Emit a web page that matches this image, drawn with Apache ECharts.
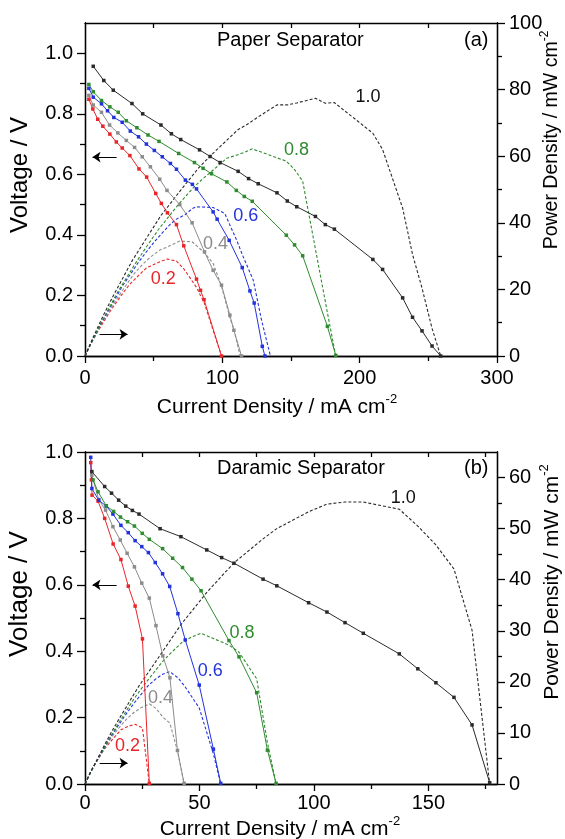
<!DOCTYPE html>
<html><head><meta charset="utf-8">
<script src="https://cdn.jsdelivr.net/npm/echarts@6/dist/echarts.min.js"></script>
<style>html,body{margin:0;padding:0;background:#fff}#c{width:565px;height:839px}</style>
</head><body><div id="c"></div>
<script>
// ---------------- DATA : Paper separator (a) ----------------
const concLabels = ['0.2', '0.4', '0.6', '0.8', '1.0'];

const p02I = [2.8, 5.7, 9.3, 13, 18.1, 22.8, 27.1, 32.7, 39.3, 44.9, 51.5, 55.6, 60, 66.6, 71.9, 81.2, 84.1, 86.7, 99.4];
const p02V = [0.848, 0.816, 0.782, 0.759, 0.733, 0.707, 0.687, 0.662, 0.618, 0.591, 0.537, 0.504, 0.473, 0.434, 0.364, 0.254, 0.217, 0.186, 0];
const p02PI = [0, 2.8, 5.7, 9.3, 13, 18.1, 22.8, 27.1, 32.7, 39.3, 44.9, 51.5, 55.6, 60, 66.6, 71.9, 81.2, 84.1, 86.7, 99.4];
const p02P = [0, 2.4, 4.7, 7.3, 9.9, 13.3, 16.1, 18.6, 21.6, 24.3, 26.5, 27.7, 28.5, 29.1, 28.5, 26.2, 20.6, 18.2, 16.1, 0];

const p04I = [2.8, 6, 12, 17.9, 23.9, 30.1, 36.1, 41.7, 47.6, 54.4, 59.7, 69, 78, 87, 93.3, 99.4, 105.5, 108.4, 114];
const p04V = [0.861, 0.829, 0.805, 0.763, 0.737, 0.712, 0.689, 0.658, 0.625, 0.584, 0.547, 0.50, 0.44, 0.344, 0.283, 0.234, 0.135, 0.085, 0];
const p04PI = [0, 2.8, 6, 12, 17.9, 23.9, 30.1, 36.1, 41.7, 47.6, 54.4, 59.7, 69, 78, 87, 93.3, 99.4, 105.5, 108.4, 113];
const p04P = [0, 2.4, 5.0, 9.7, 13.7, 17.6, 21.4, 24.9, 27.4, 29.7, 31.8, 32.7, 34.5, 34.3, 31.0, 27.8, 21.0, 11.5, 8.0, 0];

const p06I = [2.8, 6, 12, 16.4, 21, 27.1, 33, 39, 44.7, 50.5, 56.3, 62.2, 66.6, 73.1, 78.2, 81.2, 93.3, 96.2, 105, 114.5, 120.1, 123.2, 129.1, 131];
const p06V = [0.884, 0.855, 0.833, 0.81, 0.788, 0.772, 0.743, 0.724, 0.70, 0.679, 0.658, 0.636, 0.617, 0.581, 0.567, 0.552, 0.476, 0.452, 0.382, 0.292, 0.215, 0.175, 0.032, 0];
const p06PI = [0, 2.8, 6, 12, 16.4, 21, 27.1, 33, 39, 44.7, 50.5, 56.3, 62.2, 66.6, 73.1, 78.2, 81.2, 93.3, 101.8, 110.4, 115.2, 122.5, 128.6, 135];
const p06P = [0, 2.5, 5.1, 10, 13.3, 16.5, 20.9, 24.5, 28.2, 31.3, 34.3, 37, 39.6, 41.1, 42.5, 44.3, 44.8, 44.6, 42.8, 34.8, 29.8, 22.8, 10.7, 0];

const p08I = [2.8, 6, 12, 18.1, 24.2, 30.1, 37.8, 45.9, 53.9, 68.2, 79.7, 86, 92.1, 103.3, 110.2, 116, 121.8, 146.6, 152.6, 158.5, 176.5, 182.6];
const p08V = [0.897, 0.873, 0.844, 0.823, 0.805, 0.777, 0.754, 0.73, 0.709, 0.669, 0.639, 0.62, 0.602, 0.575, 0.547, 0.527, 0.511, 0.399, 0.367, 0.331, 0.098, 0.002];
const p08PI = [0, 2.8, 6, 12, 18.1, 24.2, 30.1, 37.8, 45.9, 53.9, 68.2, 79.7, 86, 92.1, 103.3, 110.2, 116, 121.8, 146.6, 152.6, 158.5, 176.5, 182.6];
const p08P = [0, 2.5, 5.2, 10.1, 14.9, 19.5, 23.4, 28.5, 33.5, 38.2, 45.6, 50.9, 53.3, 55.4, 59.4, 60.3, 61.1, 62.2, 58.5, 56.0, 52.5, 13.0, 0];

const p10I = [6, 13.7, 20.6, 34.2, 42, 55.3, 62.9, 69.7, 83.4, 91.1, 98.4, 111.5, 119.1, 126.1, 139.8, 147.3, 154.2, 167.8, 175, 181.6, 209.6, 216.7, 231.3, 238.5, 245.4, 252.7, 259];
const p10V = [0.957, 0.91, 0.878, 0.834, 0.80, 0.763, 0.734, 0.715, 0.681, 0.659, 0.639, 0.61, 0.586, 0.569, 0.539, 0.512, 0.493, 0.461, 0.434, 0.419, 0.319, 0.286, 0.192, 0.128, 0.083, 0.033, 0];
const p10PI = [0, 6, 13.7, 20.6, 34.2, 42, 55.3, 62.9, 69.7, 83.4, 91.1, 98.4, 111.5, 119.1, 126.1, 139.8, 147.3, 154.2, 167.8, 175, 181.6, 209.6, 216.7, 231.3, 238.5, 245.4, 252.7, 259];
const p10P = [0, 5.7, 12.5, 18.1, 28.5, 33.6, 42.2, 46.2, 49.8, 56.8, 60.0, 62.9, 68.0, 69.8, 71.8, 75.4, 75.4, 76.0, 77.4, 75.9, 76.1, 66.9, 62.0, 44.4, 30.5, 20.4, 8.3, 0];

// label anchor positions (current, voltage) for the concentration labels
const paperLabelI = [57, 95, 117, 154, 206];
const paperLabelV = [0.254, 0.37, 0.462, 0.68, 0.855];

// ---------------- DATA : Daramic separator (b) ----------------
const d02I = [2.5, 2.8, 3.1, 5.7, 8.6, 12.3, 15.7, 18.9, 21.9, 25.1, 28.1];
const d02V = [0.968, 0.916, 0.87, 0.852, 0.80, 0.723, 0.676, 0.596, 0.536, 0.437, 0.002];
const d02PI = [0, 2.5, 2.8, 3.1, 5.7, 8.6, 12.3, 15.7, 18.9, 21.9, 25.1, 28.1];
const d02P = [0, 2.4, 2.6, 2.7, 4.9, 6.9, 8.9, 10.6, 11.3, 11.7, 11.0, 0];

const d04I = [3, 6, 9, 12.2, 15.4, 18.4, 21.6, 24.8, 28.1, 31, 34, 37.1, 40.4, 43.3];
const d04V = [0.93, 0.857, 0.825, 0.775, 0.735, 0.695, 0.654, 0.605, 0.56, 0.477, 0.386, 0.32, 0.101, 0.002];
const d04PI = [0, 3, 6, 9, 12.2, 15.4, 18.4, 21.6, 24.8, 28.1, 31, 34, 37.1, 40.4, 43.3];
const d04P = [0, 2.8, 5.1, 7.4, 9.5, 11.3, 12.8, 14.1, 15.0, 15.7, 14.8, 13.1, 11.9, 6.5, 0];

const d06I = [2.5, 3, 6, 9.3, 12.2, 15.7, 18.9, 21.9, 24.8, 27.7, 30.7, 33.9, 37, 40.6, 43.8, 49.9, 56.1, 59.3];
const d06V = [0.984, 0.89, 0.855, 0.837, 0.813, 0.779, 0.757, 0.733, 0.715, 0.697, 0.667, 0.633, 0.595, 0.513, 0.434, 0.298, 0.105, 0.002];
const d06PI = [0, 2.5, 3, 6, 9.3, 12.2, 15.7, 18.9, 21.9, 24.8, 27.7, 30.7, 33.9, 37, 40.6, 43.8, 49.9, 56.1, 59.3];
const d06P = [0, 2.5, 2.7, 5.1, 7.8, 9.9, 12.2, 14.3, 16.1, 17.7, 19.3, 20.5, 21.5, 22.0, 20.8, 19.0, 14.9, 5.9, 0];

const d08I = [3.5, 5.7, 9.3, 12.5, 15.5, 18.6, 21.6, 25, 28.1, 33.9, 38.3, 42.6, 46.7, 50.7, 62.9, 67.3, 75, 79.7, 83.5];
const d08V = [0.916, 0.88, 0.838, 0.821, 0.804, 0.79, 0.777, 0.755, 0.737, 0.709, 0.68, 0.652, 0.617, 0.582, 0.432, 0.383, 0.275, 0.102, 0.002];
const d08PI = [0, 3.5, 5.7, 9.3, 12.5, 15.5, 18.6, 21.6, 25, 28.1, 33.9, 38.3, 42.6, 46.7, 50.7, 62.9, 67.3, 75, 79.7, 83.5];
const d08P = [0, 3.2, 5.0, 7.8, 10.3, 12.5, 14.7, 16.8, 18.9, 20.7, 24.0, 26.0, 27.8, 28.8, 29.5, 27.2, 25.8, 20.6, 8.1, 0];

const d10I = [3, 8.6, 11.6, 14.7, 17.8, 20.7, 23.6, 32.8, 41.9, 53.2, 59.7, 65.1, 77.8, 83.8, 97.7, 105.7, 113.6, 121.6, 137.3, 145.4, 153.3, 161.2, 169.1, 176.8];
const d10V = [0.941, 0.896, 0.876, 0.855, 0.837, 0.824, 0.813, 0.769, 0.745, 0.705, 0.682, 0.665, 0.617, 0.597, 0.546, 0.518, 0.486, 0.454, 0.392, 0.347, 0.305, 0.261, 0.178, 0.004];
const d10PI = [0, 3, 8.6, 11.6, 14.7, 17.8, 20.7, 23.6, 32.8, 41.9, 53.2, 59.7, 65.1, 77.8, 83.8, 97.7, 105.7, 113.6, 121.6, 137.3, 145.4, 153.3, 161.2, 169.1, 176.8];
const d10P = [0, 2.8, 7.7, 10.2, 12.6, 14.9, 17.1, 19.2, 25.2, 31.2, 37.5, 40.7, 43.3, 48.0, 50.0, 53.3, 54.8, 55.2, 55.2, 53.8, 50.5, 46.8, 42.1, 30.1, 0];

const daramicLabelI = [18.6, 33, 54.7, 68.6, 139];
const daramicLabelV = [0.114, 0.259, 0.34, 0.455, 0.861];

// ---------------- AXIS TICKS ----------------
const paperXMajor = [0, 100, 200, 300], paperXMinor = [50, 150, 250], paperXTop = [50, 100, 150, 200, 250];
const daramicXMajor = [0, 50, 100, 150], daramicXMinor = [25, 75, 125, 175], daramicXTop = [25, 50, 75, 100, 125, 150, 175];
const vMajor = [0, 0.2, 0.4, 0.6, 0.8, 1.0], vMinor = [0.1, 0.3, 0.5, 0.7, 0.9];
const paperPMajor = [0, 20, 40, 60, 80, 100], paperPMinor = [10, 30, 50, 70, 90];
const daramicPMajor = [0, 10, 20, 30, 40, 50, 60], daramicPMinor = [5, 15, 25, 35, 45, 55];

// ---------------- BUILD ----------------
const F = '"Liberation Sans", Arial, Helvetica, sans-serif';
const COLORS = ['#e8262a', '#8c8c8c', '#2233dd', '#2e8b2e', '#2a2a2a'];
const LABEL_COLORS = ['#e8262a', '#8c8c8c', '#2233dd', '#2e8b2e', '#111111'];
const AX = '#000';

function tickAxis(o) {
  const a = {
    type: 'value', gridIndex: o.g, position: o.pos, min: o.min, max: o.max,
    splitLine: { show: false },
    axisLine: { show: true, onZero: false, lineStyle: { color: AX, width: 1.3 } },
    axisTick: { show: true, inside: !!o.inside, length: o.len, customValues: o.ticks, lineStyle: { color: AX, width: 1.3 } },
    axisLabel: { show: false }
  };
  if (o.labels) {
    a.axisLabel = { show: true, customValues: o.labels, fontSize: 20, fontFamily: F, color: '#000', margin: o.margin, formatter: o.fmt };
  }
  return a;
}
const fmtV = v => Number(v).toFixed(1);
const fmtN = v => String(Math.round(v));

const xAxes = [], yAxes = [];
function buildPanel(g, xmax, xMaj, xMin, xTop, pmax, pMaj, pMin, xMargin) {
  xAxes.push(tickAxis({ g, pos: 'bottom', min: 0, max: xmax, ticks: xMaj, len: 7, labels: xMaj, margin: xMargin, fmt: fmtN }));
  xAxes.push(tickAxis({ g, pos: 'bottom', min: 0, max: xmax, ticks: xMin, len: 5 }));
  xAxes.push(tickAxis({ g, pos: 'top', min: 0, max: xmax, ticks: xTop, len: 5, inside: true }));
  const vmax = g === 0 ? 1.1 : 1.0;
  yAxes.push(tickAxis({ g, pos: 'left', min: 0, max: vmax, ticks: vMajor, len: 8, labels: vMajor, margin: 12, fmt: fmtV }));
  yAxes.push(tickAxis({ g, pos: 'left', min: 0, max: vmax, ticks: vMinor, len: 5 }));
  yAxes.push(tickAxis({ g, pos: 'right', min: 0, max: pmax, ticks: pMaj, len: 8, labels: pMaj, margin: 12, fmt: fmtN }));
  yAxes.push(tickAxis({ g, pos: 'right', min: 0, max: pmax, ticks: pMin, len: 5 }));
}
buildPanel(0, 300, paperXMajor, paperXMinor, paperXTop, 100, paperPMajor, paperPMinor, 12);
buildPanel(1, 180, daramicXMajor, daramicXMinor, daramicXTop, 65, daramicPMajor, daramicPMinor, 9);

const series = [];
function addCurve(g, k, I, V, PI, P, lblI, lblV, arrows) {
  const color = COLORS[k];
  const vs = {
    type: 'line', xAxisIndex: g * 3, yAxisIndex: g * 4, data: I.map((x, i) => [x, V[i]]),
    symbol: 'rect', symbolSize: 3.5, showSymbol: true, lineStyle: { color, width: 1 }, itemStyle: { color },
    z: 3, silent: true, animation: false,
    markPoint: {
      symbol: 'circle', symbolSize: 1, itemStyle: { color: 'rgba(0,0,0,0)' }, silent: true, animation: false,
      label: { show: true, position: 'inside', formatter: concLabels[k], color: LABEL_COLORS[k], fontSize: 18, fontFamily: F },
      data: [{ coord: [lblI[k], lblV[k]] }]
    }
  };
  const ps = {
    type: 'line', xAxisIndex: g * 3, yAxisIndex: g * 4 + 2, data: PI.map((x, i) => [x, P[i]]),
    showSymbol: false, symbol: 'none', lineStyle: { color, width: 1.1, type: [3, 2] }, z: 2, silent: true, animation: false
  };
  if (arrows) {
    const ml = (pts) => ({ symbol: ['none', 'arrow'], symbolSize: 8, silent: true, animation: false,
      label: { show: false }, lineStyle: { color: '#000', width: 1, type: 'solid' },
      data: [[{ coord: pts[0] }, { coord: pts[1] }]] });
    vs.markLine = ml(arrows.v);
    ps.markLine = ml(arrows.p);
  }
  series.push(ps, vs);
}
const paperSets = [[p02I, p02V, p02PI, p02P], [p04I, p04V, p04PI, p04P], [p06I, p06V, p06PI, p06P], [p08I, p08V, p08PI, p08P], [p10I, p10V, p10PI, p10P]];
const daramicSets = [[d02I, d02V, d02PI, d02P], [d04I, d04V, d04PI, d04P], [d06I, d06V, d06PI, d06P], [d08I, d08V, d08PI, d08P], [d10I, d10V, d10PI, d10P]];
const paperArrows = { v: [[23, 0.657], [5.5, 0.657]], p: [[10.6, 6.5], [31, 6.5]] };
const daramicArrows = { v: [[13.8, 0.6], [3.3, 0.6]], p: [[6.4, 4.1], [18.6, 4.1]] };
paperSets.forEach((s, k) => addCurve(0, k, s[0], s[1], s[2], s[3], paperLabelI, paperLabelV, k === 4 ? paperArrows : null));
daramicSets.forEach((s, k) => addCurve(1, k, s[0], s[1], s[2], s[3], daramicLabelI, daramicLabelV, k === 4 ? daramicArrows : null));

function txt(x, y, text, size, opts) {
  opts = opts || {};
  return {
    type: 'text', x, y, rotation: opts.rot || 0, silent: true,
    style: {
      text, fill: '#000', font: size + 'px ' + F, fontSize: size, fontFamily: F,
      align: opts.align || 'center', verticalAlign: 'middle', textAlign: opts.align || 'center', textVerticalAlign: 'middle',
      rich: opts.rich
    }
  };
}
const supRich = (s) => ({
  a: { fontSize: s, fontFamily: F, fill: '#000', color: '#000' },
  b: { fontSize: Math.round(s * 0.6), fontFamily: F, fill: '#000', color: '#000', padding: [0, 0, Math.round(s * 0.7), 0] }
});

const graphics = [
  txt(217, 40, 'Paper Separator', 20, { align: 'left' }),
  txt(464, 40, '(a)', 20, { align: 'left' }),
  txt(217, 468, 'Daramic Separator', 20, { align: 'left' }),
  txt(464, 468, '(b)', 20, { align: 'left' }),
  txt(20, 175, 'Voltage / V', 24, { rot: Math.PI / 2 }),
  txt(20, 594, 'Voltage / V', 26, { rot: Math.PI / 2 }),
  txt(552, 140, '{a|Power Density / mW cm}{b|-2}', 19.5, { rot: Math.PI / 2, rich: supRich(19.5) }),
  txt(552, 582, '{a|Power Density / mW cm}{b|-2}', 21, { rot: Math.PI / 2, rich: supRich(21) }),
  txt(277, 407, '{a|Current Density / mA cm}{b|-2}', 21, { rich: supRich(21) }),
  txt(280, 829, '{a|Current Density / mA cm}{b|-2}', 21, { rich: supRich(21) })
];

const chart = echarts.init(document.getElementById('c'), null, { renderer: 'canvas' });
chart.setOption({
  animation: false,
  backgroundColor: '#fff',
  grid: [
    { left: 85, right: 68, top: 23, height: 333, containLabel: false, outerBoundsMode: 'none' },
    { left: 85, right: 68, top: 452, height: 332, containLabel: false, outerBoundsMode: 'none' }
  ],
  xAxis: xAxes,
  yAxis: yAxes,
  series: series,
  graphic: { elements: graphics }
});
</script></body></html>
